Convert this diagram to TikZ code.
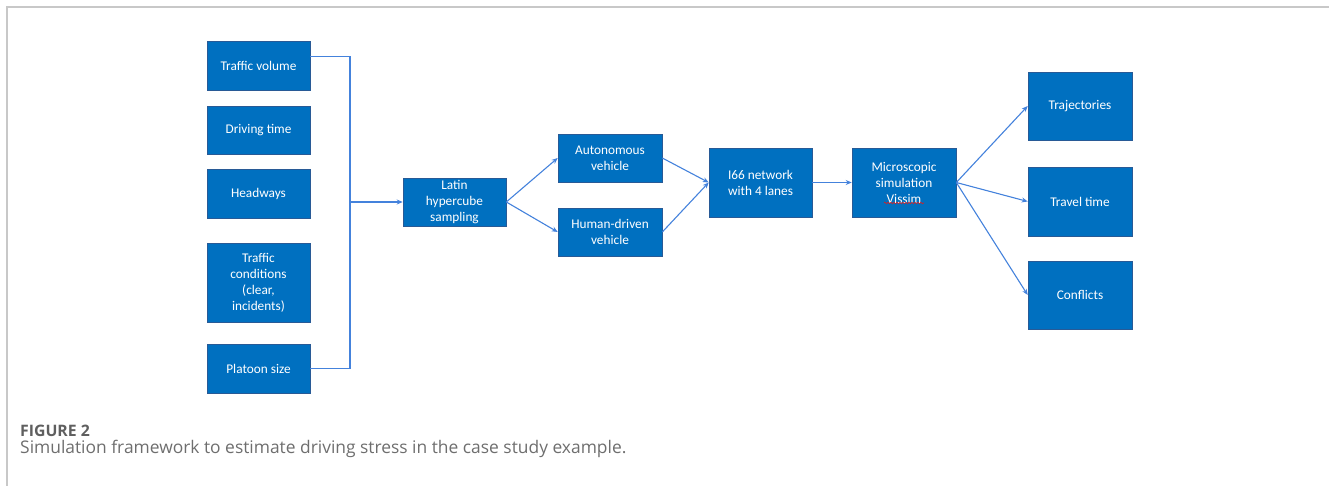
\documentclass[tikz,border=0pt]{standalone}
\usepackage{fontspec}
\setmainfont{Carlito}
\newfontfamily\capfont{Open Sans}
\usetikzlibrary{arrows.meta,calc,decorations.pathmorphing}
\definecolor{boxfill}{RGB}{0,112,192}
\definecolor{boxline}{RGB}{40,90,150}
\definecolor{conn}{RGB}{68,130,220}
\definecolor{frameg}{RGB}{200,200,200}
\definecolor{capg}{RGB}{95,95,95}
\definecolor{capt}{RGB}{110,110,110}
\definecolor{spell}{RGB}{220,30,30}
\begin{document}
\begin{tikzpicture}[x=1bp,y=-1bp,
  blk/.style={draw=boxline,line width=0.6bp,fill=boxfill,text=white,align=center,
    inner sep=2bp,font=\fontsize{13.3bp}{16bp}\selectfont},
  w103/.style={minimum width=103bp},
  w104/.style={minimum width=104bp},
  wire/.style={draw=conn,line width=1.1bp},
  arr/.style={wire,-{Stealth[length=6bp,width=5bp]}}]
\useasboundingbox (0,0) rectangle (1329,486);
% frame
\draw[frameg,line width=1.5bp] (7,486) -- (7,7) -- (1329,7);
% input boxes
\node[blk,w103,minimum height=49bp] (tv) at (258.5,65.5) {Traffic volume};
\node[blk,w103,minimum height=48bp] (dt) at (258.5,130) {Driving time};
\node[blk,w103,minimum height=49bp] (hw) at (258.5,193.5) {Headways};
\node[blk,w103,minimum height=79bp] (tc) at (258.5,282.5) {Traffic\\conditions\\(clear,\\incidents)};
\node[blk,w103,minimum height=49bp] (ps) at (258.5,368.5) {Platoon size};
% middle
\node[blk,w103,minimum height=48bp] (lhs) at (454.5,202) {Latin\\hypercube\\sampling};
\node[blk,w104,minimum height=48bp] (av) at (610,158) {Autonomous\\vehicle};
\node[blk,w104,minimum height=48bp] (hd) at (610,232) {Human-driven\\vehicle};
\node[blk,w103,minimum height=69bp] (i66) at (760.5,182.5) {I66 network\\with 4 lanes};
\node[blk,w104,minimum height=69bp] (ms) at (904,182.5) {Microscopic\\simulation\\Vissim};
% outputs
\node[blk,w104,minimum height=68bp] (tr) at (1080,106) {Trajectories};
\node[blk,w104,minimum height=69bp] (tt) at (1080,201.5) {Travel time};
\node[blk,w104,minimum height=68bp] (cf) at (1080,295) {Conflicts};
% spell-check underline under Vissim
\coordinate (sq1) at ($(ms.center)+(-20,20.5)$);
\coordinate (sq2) at ($(ms.center)+(20,20.5)$);
\draw[spell,line width=0.6bp,decorate,decoration={snake,amplitude=0.8bp,segment length=3bp}] (sq1) -- (sq2);
% connectors
\coordinate (tvout) at ($(tv.north east)!0.31!(tv.south east)$);
\coordinate (bus) at (350,202);
\draw[wire] (tvout) -| (bus) |- (ps.east);
\draw[arr] (bus) -- (lhs.west);
\draw[arr] (lhs.east) -- (av.west);
\draw[arr] (lhs.east) -- (hd.west);
\draw[arr] (av.east) -- (i66.west);
\draw[arr] (hd.east) -- (i66.west);
\draw[arr] (i66.east) -- (ms.west);
\draw[arr] (ms.east) -- (tr.west);
\draw[arr] (ms.east) -- (tt.west);
\draw[arr] (ms.east) -- (cf.west);
% caption
\node[anchor=base west,inner sep=0,text=capg,font=\capfont\fontsize{15.8bp}{18bp}\selectfont\bfseries] (fig) at (20,436) {FIGURE 2};
\node[anchor=base west,inner sep=0,text=capt,font=\capfont\fontsize{17.4bp}{18bp}\selectfont] (cap) at (20,453) {Simulation framework to estimate driving stress in the case study example.};
\end{tikzpicture}
\end{document}
